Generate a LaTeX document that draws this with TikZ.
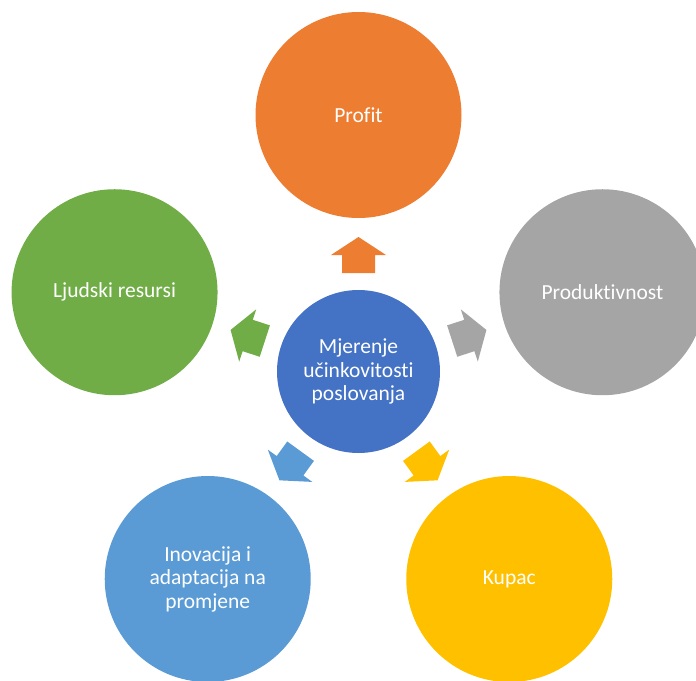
\documentclass[tikz,border=0pt]{standalone}
\usepackage{fontspec}
\setmainfont[Ligatures=NoCommon]{Carlito}
\definecolor{cOrange}{HTML}{ED7D31}
\definecolor{cGray}{HTML}{A5A5A5}
\definecolor{cGold}{HTML}{FFC000}
\definecolor{cBlue}{HTML}{5B9BD5}
\definecolor{cGreen}{HTML}{70AD47}
\definecolor{cCenter}{HTML}{4472C4}
\begin{document}
\begin{tikzpicture}[x=1pt,y=1pt,
  txt/.style={text=white,align=center,font=\fontsize{21.5}{23.5}\selectfont},
  outer/.style={circle,inner sep=0pt,minimum size=206pt,txt},
  inner/.style={circle,inner sep=0pt,minimum size=163pt,txt,fill=cCenter},
  blockarrow/.style={fill=#1}]
\useasboundingbox (0,-680) rectangle (696,0);
\begin{scope}[shift={(358.5,-371.5)}]
  \node[inner] (c) at (0,0) {Mjerenje\\u\v{c}inkovitosti\\poslovanja};
  \node[outer,fill=cOrange] (profit) at (90:256.5) {Profit};
  \node[outer,fill=cGray] (prod) at (18:256.5) {Produktivnost};
  \node[outer,fill=cGold] (kupac) at (-54:256.5) {Kupac};
  \node[outer,fill=cBlue] (inov) at (234:256.5) {Inovacija i\\adaptacija na\\promjene};
  \node[outer,fill=cGreen] (ljud) at (162:256.5) {Ljudski resursi};
  \foreach \ang/\col in {0/cOrange,-72/cGray,-144/cGold,144/cBlue,72/cGreen}{
    \fill[blockarrow=\col,rotate=\ang] (-16.5,98.5) -- (16.5,98.5) -- (16.5,116.5) -- (27.5,116.5) -- (0,134.5) -- (-27.5,116.5) -- (-16.5,116.5) -- cycle;
  }
\end{scope}
\end{tikzpicture}
\end{document}
